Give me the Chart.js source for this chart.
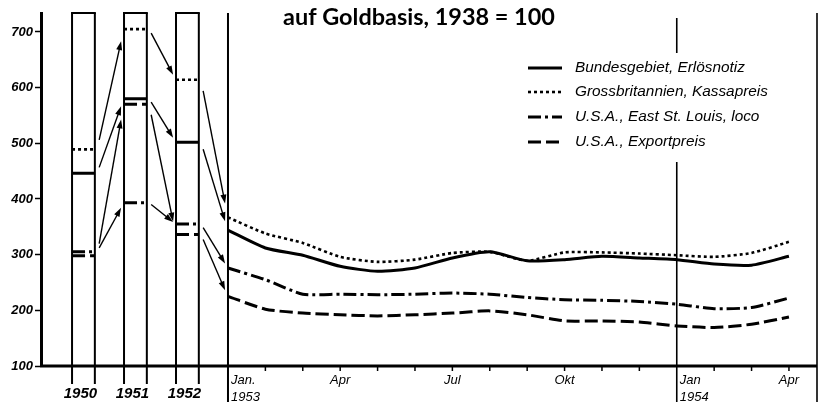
<!DOCTYPE html>
<html><head><meta charset="utf-8">
<script src="https://cdn.jsdelivr.net/npm/chart.js@4.4.1/dist/chart.umd.min.js"></script>
<style>html,body{margin:0;padding:0;background:#fff;}#wrap{width:821px;height:402px;position:relative;}</style>
</head><body><div id="wrap"><canvas id="c" width="821" height="402"></canvas></div>
<script>
// ---- data ----
const titleText = 'auf Goldbasis, 1938 = 100';
const seriesNames = ['Bundesgebiet, Erlösnotiz', 'Grossbritannien, Kassapreis', 'U.S.A., East St. Louis, loco', 'U.S.A., Exportpreis'];
const years = ['1950', '1951', '1952'];
const yearBoxLeft = [-4.17, -2.78, -1.39];   // months relative to Jan 1953
const yearBoxRight = [-3.56, -2.17, -0.78];
const annualBund = [446, 580, 502];
const annualGB = [489, 705, 614];
const annualUSAloco = [305, 393, 355];
const annualUSAexport = [298, 570, 336];
const monthPos = [0, 1, 2, 3, 4, 5, 6, 7, 8, 9, 10, 11, 12, 13, 14, 15]; // Jan 1953 .. Apr 1954
const monthlyBund = [344, 312, 299, 279, 270, 276, 294, 305, 289, 291, 297, 294, 291, 283, 281, 297];
const monthlyGB = [367, 338, 321, 296, 287, 291, 303, 305, 289, 304, 304, 302, 299, 296, 303, 323];
const monthlyUSAloco = [276, 255, 229, 229, 228, 229, 231, 229, 223, 219, 218, 216, 211, 203, 205, 222];
const monthlyUSAexport = [225, 202, 195, 192, 190, 192, 195, 199, 192, 181, 181, 179, 172, 169, 175, 188];
const yTicks = [100, 200, 300, 400, 500, 600, 700];
const monthTickLabels = [['Jan.', '1953'], '', '', 'Apr', '', '', 'Jul', '', '', 'Okt', '', '', ['Jan', '1954'], '', '', 'Apr'];

const annual = [annualBund, annualGB, annualUSAloco, annualUSAexport];
const monthly = [monthlyBund, monthlyGB, monthlyUSAloco, monthlyUSAexport];
const styles = [
  { w: 3, dash: [] },
  { w: 2.6, dash: [3, 3] },
  { w: 3, dash: [13, 4, 3, 4] },
  { w: 3, dash: [13, 5] }
];

const datasets = [];
monthly.forEach((arr, s) => {
  datasets.push({
    label: seriesNames[s],
    data: arr.map((v, i) => ({ x: monthPos[i], y: v })),
    borderColor: '#000', borderWidth: styles[s].w, borderDash: styles[s].dash,
    pointRadius: 0, tension: 0.2, fill: false
  });
});
annual.forEach((arr, s) => {
  const d = [];
  arr.forEach((v, i) => {
    d.push({ x: yearBoxLeft[i], y: v }, { x: yearBoxRight[i], y: v }, { x: yearBoxRight[i] + 0.01, y: null });
  });
  datasets.push({
    label: seriesNames[s] + ' (Jahr)',
    data: d, borderColor: '#000', borderWidth: styles[s].w, borderDash: styles[s].dash,
    pointRadius: 0, tension: 0, fill: false, spanGaps: false
  });
});

function vline(ctx, x, y1, y2, w) {
  ctx.save(); ctx.strokeStyle = '#000'; ctx.lineWidth = w; ctx.setLineDash([]);
  ctx.beginPath(); ctx.moveTo(x, y1); ctx.lineTo(x, y2); ctx.stroke(); ctx.restore();
}
function arrow(ctx, x1, y1, x2, y2) {
  const ang = Math.atan2(y2 - y1, x2 - x1);
  ctx.save(); ctx.strokeStyle = '#000'; ctx.fillStyle = '#000'; ctx.lineWidth = 1.4; ctx.setLineDash([]);
  ctx.beginPath(); ctx.moveTo(x1, y1); ctx.lineTo(x2 - 6 * Math.cos(ang), y2 - 6 * Math.sin(ang)); ctx.stroke();
  ctx.beginPath(); ctx.moveTo(x2, y2);
  ctx.lineTo(x2 - 9 * Math.cos(ang) + 3 * Math.sin(ang), y2 - 9 * Math.sin(ang) - 3 * Math.cos(ang));
  ctx.lineTo(x2 - 9 * Math.cos(ang) - 3 * Math.sin(ang), y2 - 9 * Math.sin(ang) + 3 * Math.cos(ang));
  ctx.closePath(); ctx.fill(); ctx.restore();
}

const decor = {
  id: 'decor',
  beforeDatasetsDraw(chart) {
    const { ctx, chartArea: a, scales: { x, y } } = chart;
    years.forEach((yr, i) => {
      const l = x.getPixelForValue(yearBoxLeft[i]), r = x.getPixelForValue(yearBoxRight[i]);
      vline(ctx, l, a.top, 384, 2);
      vline(ctx, r, a.top, 384, 2);
      ctx.save(); ctx.lineWidth = 2; ctx.beginPath(); ctx.moveTo(l - 1, a.top); ctx.lineTo(r + 1, a.top); ctx.stroke(); ctx.restore();
    });
    vline(ctx, x.getPixelForValue(0), a.top, 402, 2);
    const j54 = x.getPixelForValue(12);
    vline(ctx, j54, 18, 53, 1.6);
    vline(ctx, j54, 162, 402, 1.6);
    vline(ctx, a.right, a.top, 402, 1.6);
  },
  afterDatasetsDraw(chart) {
    const { ctx, chartArea: a, scales: { x, y } } = chart;
    ctx.save(); ctx.strokeStyle = '#000'; ctx.lineWidth = 3; ctx.setLineDash([]);
    ctx.beginPath(); ctx.moveTo(a.left - 1, a.bottom); ctx.lineTo(a.right, a.bottom); ctx.stroke();
    ctx.lineWidth = 1.5;
    monthPos.forEach(m => {
      if (m === 0 || m === 12) return;
      const px = x.getPixelForValue(m);
      ctx.beginPath(); ctx.moveTo(px, a.bottom); ctx.lineTo(px, a.bottom + 5); ctx.stroke();
    });
    ctx.restore();
    annual.forEach((arr, s) => {
      for (let i = 0; i < 3; i++) {
        const x1 = x.getPixelForValue(yearBoxRight[i]), y1 = y.getPixelForValue(arr[i]);
        const x2 = x.getPixelForValue(i < 2 ? yearBoxLeft[i + 1] : 0);
        const y2 = y.getPixelForValue(i < 2 ? arr[i + 1] : monthly[s][0]);
        const t1 = 0.08, t2 = 0.9;
        arrow(ctx, x1 + (x2 - x1) * t1 + 2, y1 + (y2 - y1) * t1, x1 + (x2 - x1) * t2, y1 + (y2 - y1) * t2);
      }
    });
    ctx.save(); ctx.fillStyle = '#000'; ctx.textBaseline = 'middle';
    ctx.font = 'bold italic 15px "Liberation Sans"'; ctx.textAlign = 'center';
    years.forEach((yr, i) => {
      const c = (x.getPixelForValue(yearBoxLeft[i]) + x.getPixelForValue(yearBoxRight[i])) / 2;
      ctx.fillText(yr, c - 3, 394);
    });
    ctx.font = 'italic 13px "Liberation Sans"';
    monthTickLabels.forEach((lab, i) => {
      if (!lab) return;
      const px = x.getPixelForValue(monthPos[i]);
      if (Array.isArray(lab)) {
        ctx.textAlign = 'left';
        ctx.fillText(lab[0], px + 3, 380);
        ctx.fillText(lab[1], px + 3, 397);
      } else {
        ctx.textAlign = 'center';
        ctx.fillText(lab, px, 380);
      }
    });
    ctx.restore();
    ctx.save(); ctx.fillStyle = '#000'; ctx.textAlign = 'left'; ctx.textBaseline = 'alphabetic';
    ctx.font = 'bold 20px Lato';
    let w = ctx.measureText(titleText).width;
    const fs = 20 * 272 / w;
    ctx.font = 'bold ' + fs.toFixed(2) + 'px Lato';
    ctx.fillText(titleText, 283, 25);
    ctx.restore();
    ctx.save(); ctx.fillStyle = '#000'; ctx.strokeStyle = '#000'; ctx.textBaseline = 'middle'; ctx.textAlign = 'left';
    ctx.font = 'italic 14px "Liberation Sans"';
    const lw = ctx.measureText(seriesNames[1]).width;
    const lfs = 14 * 193 / lw;
    ctx.font = 'italic ' + lfs.toFixed(2) + 'px "Liberation Sans"';
    const rowsY = [68, 92, 117, 142];
    seriesNames.forEach((n, s) => {
      ctx.lineWidth = styles[s].w; ctx.setLineDash(styles[s].dash);
      ctx.beginPath(); ctx.moveTo(528, rowsY[s]); ctx.lineTo(562, rowsY[s]); ctx.stroke();
      ctx.fillText(n, 575, rowsY[s]);
    });
    ctx.restore();
  }
};

new Chart(document.getElementById('c'), {
  type: 'line',
  data: { datasets },
  options: {
    responsive: false, animation: false, devicePixelRatio: 1,
    layout: { padding: { top: 13, right: 4, bottom: 36, left: 0 } },
    plugins: { legend: { display: false }, tooltip: { enabled: false }, title: { display: false } },
    scales: {
      x: { type: 'linear', min: -5, max: 15.75, display: false },
      y: {
        type: 'linear', min: 100, max: 734,
        afterFit(scale) { scale.width = 41; },
        afterBuildTicks(scale) { scale.ticks = yTicks.map(v => ({ value: v })); },
        ticks: { font: { family: 'Liberation Sans', size: 13, style: 'italic', weight: 'bold' }, color: '#000', padding: 2 },
        grid: { drawOnChartArea: false, drawTicks: true, tickLength: 6, tickColor: '#000', tickWidth: 1.5 },
        border: { display: true, color: '#000', width: 3 }
      }
    }
  },
  plugins: [decor]
});
</script></body></html>
